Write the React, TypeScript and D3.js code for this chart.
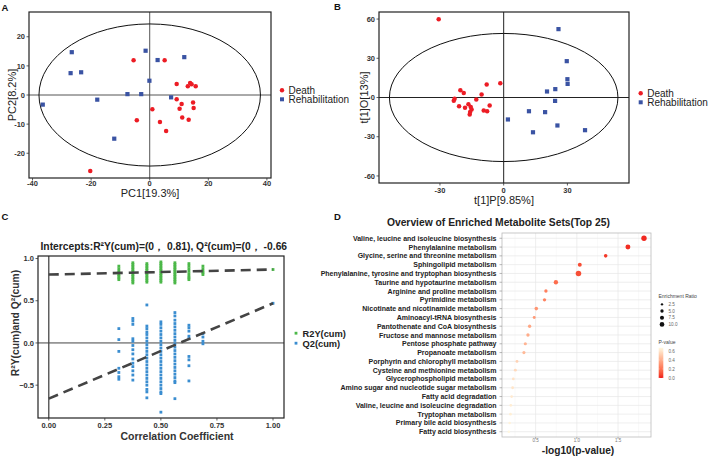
import React from 'react';
import * as d3 from 'd3';

const FONT = '"Liberation Sans", Arial, Helvetica, sans-serif';

// ---------- Panel A (PCA) ----------
const groupNames = ['Death', 'Rehabilitation'];
const deathA: [number, number][] = [[-5.5, 11.9], [5.1, 11.9], [9.2, 3.8], [13, 3], [13.8, 4.1], [14.3, 3.7], [15.7, 3], [9.2, -1.5], [10.9, -3.1], [10.2, -4.7], [14.8, -2.6], [15, -4.5], [11.1, -7.7], [13.3, -8.5], [0.9, -4.9], [-4.4, -8.7], [3.5, -9.3], [5.6, -12.4], [-20.3, -26.1]];
const rehabA: [number, number][] = [[-26.6, 14.7], [-27, 7.5], [-23.4, 7.8], [-36.5, -3.3], [-17.9, -1.6], [-12.1, -15], [-7.6, 0.3], [-2.9, 0.3], [-1.4, 15.2], [-0.1, 4.9], [2.7, 12], [11.8, 13], [7.3, -0.8]];
const ticksAX = [-40, -20, 0, 20, 40];
const ticksAY = [-20, -10, 0, 10, 20];
const ellipseA = [37.8, 24.4];

// ---------- Panel B (OPLS-DA) ----------
const deathB: [number, number][] = [[-30.6, 59.9], [-23.1, -1], [-23.5, -2.5], [-20.4, 5.6], [-18.8, 3.5], [-21, -6.7], [-18.2, -7.9], [-16.6, -5.1], [-15.5, -7.2], [-15.1, -9.2], [-16, -13], [-12.9, -1.5], [-10.4, 2.3], [-8, 9.9], [-1.6, 10.9], [-9.4, -10], [-7.8, -10.5], [-6.6, -6.1], [-15.8, -11]];
const rehabB: [number, number][] = [[25.8, 52.3], [29.7, 27.8], [30, 14], [30.1, 10.4], [20.4, 4.6], [24.3, 6.4], [24.2, -2.6], [2, -16.8], [11.9, -10.5], [19.5, -11.2], [13.8, -26.6], [25.3, -21.4], [38.3, -25]];
const ticksBX = [-30, 0, 30];
const ticksBY = [-60, -30, 0, 30, 60];
const ellipseB = [53.8, 49];

// ---------- Panel C (permutation test) ----------
const permCorr = [0.3125, 0.375, 0.4375, 0.5, 0.5625, 0.625, 0.6875];
const permR2: number[][] = [
  [0.91, 0.88, 0.85, 0.83, 0.81, 0.79, 0.77, 0.75],
  [0.95, 0.93, 0.91, 0.89, 0.87, 0.85, 0.83, 0.81, 0.79, 0.77, 0.75, 0.73, 0.71],
  [0.94, 0.92, 0.9, 0.88, 0.86, 0.84, 0.82, 0.8, 0.78, 0.76, 0.74, 0.72],
  [0.96, 0.94, 0.92, 0.9, 0.88, 0.86, 0.84, 0.82, 0.8, 0.78, 0.76, 0.74, 0.72],
  [0.95, 0.93, 0.91, 0.89, 0.87, 0.85, 0.83, 0.81, 0.79, 0.77, 0.75, 0.73, 0.71],
  [0.94, 0.91, 0.88, 0.85, 0.82, 0.79, 0.77, 0.75],
  [0.91, 0.88, 0.85, 0.83, 0.81],
];
const permQ2: number[][] = [
  [0.17, 0.04, -0.1, -0.3, -0.35, -0.4, -0.43],
  [0.29, 0.26, 0.22, 0.05, 0.02, -0.03, -0.08, -0.13, -0.19, -0.24, -0.28, -0.33, -0.38, -0.44],
  [0.45, 0.2, 0.17, 0.13, 0.1, 0.06, 0.02, -0.02, -0.06, -0.1, -0.14, -0.18, -0.22, -0.26, -0.3, -0.34, -0.38, -0.42, -0.46, -0.5, -0.55, -0.58, -0.65],
  [0.25, 0.22, 0.18, 0.14, 0.1, 0.06, 0.02, -0.02, -0.06, -0.1, -0.14, -0.18, -0.22, -0.26, -0.3, -0.34, -0.38, -0.42, -0.46, -0.5, -0.54, -0.58, -0.6, -0.82],
  [0.36, 0.32, 0.27, 0.23, 0.19, 0.15, 0.11, 0.07, 0.03, -0.01, -0.05, -0.09, -0.13, -0.17, -0.21, -0.25, -0.29, -0.33, -0.37, -0.41, -0.45, -0.47, -0.66],
  [0.21, 0.18, 0.14, 0.08, 0.05, -0.16, -0.2, -0.27, -0.45],
  [0.11, 0.07, 0.02, -0.01],
];
const origR2: [number, number] = [1, 0.87];
const origQ2: [number, number] = [1, 0.47];
const interceptR2 = 0.81;
const interceptQ2 = -0.66;
const ticksCX = [0, 0.25, 0.5, 0.75, 1];
const ticksCY = [-0.5, 0, 0.5, 1];
const legendC = ['R2Y(cum)', 'Q2(cum)'];

// ---------- Panel D (enrichment) ----------
const pathways = [
  'Valine, leucine and isoleucine biosynthesis',
  'Phenylalanine metabolism',
  'Glycine, serine and threonine metabolism',
  'Sphingolipid metabolism',
  'Phenylalanine, tyrosine and tryptophan biosynthesis',
  'Taurine and hypotaurine metabolism',
  'Arginine and proline metabolism',
  'Pyrimidine metabolism',
  'Nicotinate and nicotinamide metabolism',
  'Aminoacyl-tRNA biosynthesis',
  'Pantothenate and CoA biosynthesis',
  'Fructose and mannose metabolism',
  'Pentose phosphate pathway',
  'Propanoate metabolism',
  'Porphyrin and chlorophyll metabolism',
  'Cysteine and methionine metabolism',
  'Glycerophospholipid metabolism',
  'Amino sugar and nucleotide sugar metabolism',
  'Fatty acid degradation',
  'Valine, leucine and isoleucine degradation',
  'Tryptophan metabolism',
  'Primary bile acid biosynthesis',
  'Fatty acid biosynthesis',
];
const negLogP = [1.815, 1.62, 1.35, 1.036, 1.02, 0.746, 0.625, 0.608, 0.508, 0.483, 0.427, 0.407, 0.375, 0.358, 0.274, 0.254, 0.229, 0.221, 0.209, 0.199, 0.195, 0.185, 0.175];
const enrichRatio = [13, 11, 5.8, 7.1, 14, 8.6, 5.1, 5.1, 5.8, 4, 5.1, 5.1, 4.5, 4.5, 3.8, 3.8, 3.5, 3.5, 3.2, 3.2, 3.2, 3, 3];
const ticksDX = [0.5, 1.0, 1.5];
const minorDX = [0.25, 0.75, 1.25, 1.75];
const sizeLegend = [2.5, 5.0, 7.5, 10.0];
const pLegend = [0.0, 0.2, 0.4, 0.6];

const RED = '#EC1C24';
const BLUE = '#3A53A3';
const GREEN = '#4CB849';
const LBLUE = '#3A8DD0';

function ScorePanel(props: {
  x0: number; x1: number; y0: number; y1: number;
  xd: [number, number]; yd: [number, number];
  xt: number[]; yt: number[]; ell: number[];
  death: [number, number][]; rehab: [number, number][];
  xlab: string; ylab: string; xlabY: number; ylabX: number;
  tickXY: number; legX: number; legY: number; crossColor: string;
}) {
  const p = props;
  const x = d3.scaleLinear().domain(p.xd).range([p.x0, p.x1]);
  const y = d3.scaleLinear().domain(p.yd).range([p.y1, p.y0]);
  return (
    <g>
      <line x1={x(0)} x2={x(0)} y1={p.y0} y2={p.y1} stroke={p.crossColor} strokeWidth={1} />
      <line x1={p.x0} x2={p.x1} y1={y(0)} y2={y(0)} stroke={p.crossColor} strokeWidth={1} />
      <ellipse cx={x(0)} cy={y(0)} rx={x(p.ell[0]) - x(0)} ry={y(0) - y(p.ell[1])} fill="none" stroke="#111" strokeWidth={1} />
      {p.rehab.map((d, i) => (
        <rect key={'r' + i} x={x(d[0]) - 2.1} y={y(d[1]) - 2.1} width={4.2} height={4.2} fill={BLUE} />
      ))}
      {p.death.map((d, i) => (
        <circle key={'d' + i} cx={x(d[0])} cy={y(d[1])} r={2.25} fill={RED} />
      ))}
      <rect x={p.x0} y={p.y0} width={p.x1 - p.x0} height={p.y1 - p.y0} fill="none" stroke="#222" strokeWidth={1.2} />
      {p.xt.map((t) => (
        <g key={'xt' + t}>
          <line x1={x(t)} x2={x(t)} y1={p.y1} y2={p.y1 + 2.5} stroke="#333" strokeWidth={0.8} />
          <text x={x(t)} y={p.tickXY} textAnchor="middle" fontSize={7.5} fontWeight="bold" fill="#333">{t}</text>
        </g>
      ))}
      {p.yt.map((t) => (
        <g key={'yt' + t}>
          <line x1={p.x0 - 2.5} x2={p.x0} y1={y(t)} y2={y(t)} stroke="#333" strokeWidth={0.8} />
          <text x={p.x0 - 4} y={y(t) + 2.7} textAnchor="end" fontSize={7.5} fontWeight="bold" fill="#333">{t}</text>
        </g>
      ))}
      <text x={(p.x0 + p.x1) / 2} y={p.xlabY} textAnchor="middle" fontSize={11} fill="#222">{p.xlab}</text>
      <text transform={`translate(${p.ylabX},${(p.y0 + p.y1) / 2}) rotate(-90)`} textAnchor="middle" fontSize={11} fill="#222">{p.ylab}</text>
      <circle cx={p.legX} cy={p.legY} r={2.2} fill={RED} />
      <text x={p.legX + 6.5} y={p.legY + 3.3} fontSize={10} fill="#222">{groupNames[0]}</text>
      <rect x={p.legX - 2} y={p.legY + 7} width={4} height={4} fill={BLUE} />
      <text x={p.legX + 6.5} y={p.legY + 12.9} fontSize={10} fill="#222">{groupNames[1]}</text>
    </g>
  );
}

function PanelC() {
  const x0 = 38, x1 = 284, y0 = 256, y1 = 418;
  const x = d3.scaleLinear().domain([-0.048, 1.049]).range([x0, x1]);
  const y = d3.scaleLinear().domain([-0.889, 1.03]).range([y1, y0]);
  const line = d3.line<[number, number]>().x((d) => x(d[0])).y((d) => y(d[1]));
  const fmtX = d3.format('.2f');
  const fmtY = d3.format('.1f');
  const s = 2.8;
  return (
    <g>
      <line x1={x(0)} x2={x(0)} y1={y0} y2={y1} stroke="#555" strokeWidth={1.4} />
      <line x1={x0} x2={x1} y1={y(0)} y2={y(0)} stroke="#444" strokeWidth={1} />
      {permCorr.map((c, i) =>
        permQ2[i].map((v, j) => (
          <rect key={`q${i}-${j}`} x={x(c) - s / 2} y={y(v) - s / 2} width={s} height={s} fill={LBLUE} />
        ))
      )}
      {permCorr.map((c, i) =>
        permR2[i].map((v, j) => (
          <rect key={`g${i}-${j}`} x={x(c) - s / 2} y={y(v) - s / 2} width={s} height={s} fill={GREEN} />
        ))
      )}
      <rect x={x(origR2[0]) - s / 2} y={y(origR2[1]) - s / 2} width={s} height={s} fill={GREEN} />
      <rect x={x(origQ2[0]) - s / 2} y={y(origQ2[1]) - s / 2} width={s} height={s} fill={LBLUE} />
      <path d={line([[0, interceptR2], origR2]) || ''} stroke="#444" strokeWidth={2.6} strokeDasharray="10,6" fill="none" />
      <path d={line([[0, interceptQ2], origQ2]) || ''} stroke="#444" strokeWidth={2.6} strokeDasharray="10,6" fill="none" />
      <rect x={x0} y={y0} width={x1 - x0} height={y1 - y0} fill="none" stroke="#222" strokeWidth={1.2} />
      {ticksCX.map((t) => (
        <g key={'cx' + t}>
          <line x1={x(t)} x2={x(t)} y1={y1} y2={y1 + 2.5} stroke="#333" strokeWidth={0.8} />
          <text x={x(t)} y={428.3} textAnchor="middle" fontSize={7.5} fontWeight="bold" fill="#333">{fmtX(t)}</text>
        </g>
      ))}
      {ticksCY.map((t) => (
        <g key={'cy' + t}>
          <line x1={x0 - 2.5} x2={x0} y1={y(t)} y2={y(t)} stroke="#333" strokeWidth={0.8} />
          <text x={34} y={y(t) + 2.7} textAnchor="end" fontSize={7.5} fontWeight="bold" fill="#333">{fmtY(t).replace('-', '\u2212')}</text>
        </g>
      ))}
      <text x={40.5} y={250} fontSize={10.3} fontWeight="bold" fill="#222">{'Intercepts:R\u00B2Y(cum)=(0\uFF0C 0.81), Q\u00B2(cum)=(0\uFF0C -0.66'}</text>
      <text x={177} y={439.5} textAnchor="middle" fontSize={10.5} fontWeight="bold" fill="#333">Correlation Coefficient</text>
      <text transform={`translate(18.5,323) rotate(-90)`} textAnchor="middle" fontSize={10.3} fontWeight="bold" fill="#333">{'R\u00B2Y(cum)and Q\u00B2(cum)'}</text>
      <rect x={294.6} y={331.8} width={2.8} height={2.8} fill={GREEN} />
      <text x={302.5} y={336.7} fontSize={9.3} fontWeight="bold" fill="#222">{legendC[0]}</text>
      <rect x={294.6} y={341.8} width={2.8} height={2.8} fill={LBLUE} />
      <text x={302.5} y={346.7} fontSize={9.3} fontWeight="bold" fill="#222">{legendC[1]}</text>
    </g>
  );
}

function PanelD() {
  const x0 = 502, x1 = 651, y0 = 233, y1 = 437;
  const x = d3.scaleLinear().domain([0.092, 1.9]).range([x0, x1]);
  const y = d3.scalePoint<string>().domain(pathways).range([y0, y1]).padding(0.6);
  const pMax = 0.673;
  const color = d3.scaleLinear<string>().domain([0, pMax]).range(['#F01C1C', '#FFF8E0']).interpolate(d3.interpolateLab).clamp(true);
  const rScale = d3.scaleSqrt().domain([0, 10]).range([0, 2.35]);
  const rows = pathways.map((name, i) => ({ name, v: negLogP[i], p: Math.pow(10, -negLogP[i]), r: enrichRatio[i] }));
  const cbTop = 347.7, cbBot = 378;
  const cb = d3.scaleLinear().domain([0, pMax]).range([cbBot, cbTop]);
  return (
    <g>
      <defs>
        <linearGradient id="pgrad" x1="0" y1="1" x2="0" y2="0">
          {d3.range(0, 1.0001, 0.1).map((f) => (
            <stop key={f} offset={f} stopColor={color(f * pMax)} />
          ))}
        </linearGradient>
      </defs>
      {minorDX.map((t) => (
        <line key={'mn' + t} x1={x(t)} x2={x(t)} y1={y0} y2={y1} stroke="#F2F2F2" strokeWidth={0.5} />
      ))}
      {ticksDX.map((t) => (
        <line key={'mj' + t} x1={x(t)} x2={x(t)} y1={y0} y2={y1} stroke="#E6E6E6" strokeWidth={0.7} />
      ))}
      {pathways.map((n) => (
        <line key={'h' + n} x1={x0} x2={x1} y1={y(n)} y2={y(n)} stroke="#E6E6E6" strokeWidth={0.7} />
      ))}
      {rows.map((d) => (
        <circle key={'pt' + d.name} cx={x(d.v)} cy={y(d.name)} r={rScale(d.r)} fill={color(d.p)} />
      ))}
      <rect x={x0} y={y0} width={x1 - x0} height={y1 - y0} fill="none" stroke="#BBBBBB" strokeWidth={0.8} />
      {pathways.map((n) => (
        <g key={'yl' + n}>
          <line x1={x0 - 2.5} x2={x0} y1={y(n)} y2={y(n)} stroke="#888" strokeWidth={0.6} />
          <text x={496.5} y={(y(n) || 0) + 2.5} textAnchor="end" fontSize={7} fontWeight="bold" fill="#222">{n}</text>
        </g>
      ))}
      {ticksDX.map((t) => (
        <g key={'xl' + t}>
          <line x1={x(t)} x2={x(t)} y1={y1} y2={y1 + 2} stroke="#888" strokeWidth={0.6} />
          <text x={x(t)} y={442} textAnchor="middle" fontSize={4.5} fill="#777">{d3.format('.1f')(t)}</text>
        </g>
      ))}
      <text x={498.4} y={225.5} textAnchor="middle" fontSize={10.3} fontWeight="bold" fill="#222">Overview of Enriched Metabolite Sets(Top 25)</text>
      <text x={578} y={454} textAnchor="middle" fontSize={10.2} fontWeight="bold" fill="#222">-log10(p-value)</text>
      <text x={658.5} y={298} fontSize={5} fill="#444">Enrichment Ratio</text>
      {sizeLegend.map((v, i) => (
        <g key={'sl' + v}>
          <circle cx={662} cy={304.3 + i * 6.7} r={rScale(v)} fill="#111" />
          <text x={668.5} y={304.3 + i * 6.7 + 1.7} fontSize={4.6} fill="#666">{d3.format('.1f')(v)}</text>
        </g>
      ))}
      <text x={658.5} y={344} fontSize={5} fill="#444">P-value</text>
      <rect x={658.7} y={cbTop} width={4.6} height={cbBot - cbTop} fill="url(#pgrad)" />
      {pLegend.map((v) => (
        <g key={'pl' + v}>
          <line x1={658.7} x2={659.6} y1={cb(v)} y2={cb(v)} stroke="#fff" strokeWidth={0.4} />
          <line x1={662.4} x2={663.3} y1={cb(v)} y2={cb(v)} stroke="#fff" strokeWidth={0.4} />
          <text x={668.5} y={cb(v) + 1.7} fontSize={4.6} fill="#666">{d3.format('.1f')(v)}</text>
        </g>
      ))}
    </g>
  );
}

export default function App() {
  return (
    <svg width={715} height={457} viewBox="0 0 715 457" style={{ position: 'absolute', left: 0, top: 0, background: '#fff', fontFamily: FONT }}>
      <rect x={0} y={0} width={715} height={457} fill="#fff" />
      <ScorePanel x0={29} x1={271} y0={12} y1={178} xd={[-41.2, 41.4]} yd={[-28.5, 28.5]}
        xt={ticksAX} yt={ticksAY} ell={ellipseA} death={deathA} rehab={rehabA}
        xlab="PC1[19.3%]" ylab="PC2[8.2%]" xlabY={196.5} ylabX={16} tickXY={186}
        legX={282} legY={90.3} crossColor="#555" />
      <ScorePanel x0={379} x1={629} y0={12} y1={183} xd={[-58.7, 59]} yd={[-65.4, 65.4]}
        xt={ticksBX} yt={ticksBY} ell={ellipseB} death={deathB} rehab={rehabB}
        xlab="t[1]P[9.85%]" ylab="t[1]O[13%]" xlabY={204} ylabX={367.5} tickXY={193.3}
        legX={640.7} legY={93.3} crossColor="#222" />
      <PanelC />
      <PanelD />
      <text x={1.5} y={10.5} fontSize={9.5} fontWeight="bold" fill="#111">A</text>
      <text x={334} y={9.5} fontSize={9.5} fontWeight="bold" fill="#111">B</text>
      <text x={1.5} y={220} fontSize={9.5} fontWeight="bold" fill="#111">C</text>
      <text x={334} y={220} fontSize={9.5} fontWeight="bold" fill="#111">D</text>
    </svg>
  );
}
